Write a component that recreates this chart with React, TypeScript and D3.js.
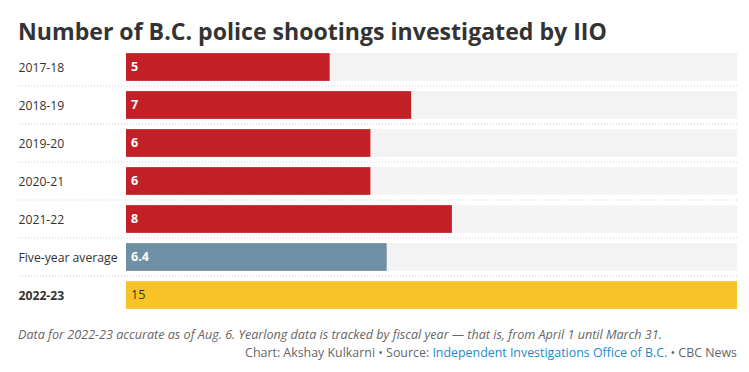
import * as d3 from "d3";
import React from "react";

const categories = ["2017-18", "2018-19", "2019-20", "2020-21", "2021-22", "Five-year average", "2022-23"];
const values = [5, 7, 6, 6, 8, 6.4, 15];
const valueLabels = ["5", "7", "6", "6", "8", "6.4", "15"];
const barKinds = ["year", "year", "year", "year", "year", "average", "current"];

const colors: Record<string, string> = {
  year: "#c22026",
  average: "#6f8fa4",
  current: "#f8c327",
};

const width = 749;
const height = 372;
const font = "'Open Sans', sans-serif";

export default function App() {
  const x = d3.scaleLinear().domain([0, 15]).range([126, 737]);
  const y = d3
    .scaleBand()
    .domain(categories)
    .range([48, 314])
    .paddingInner(0.27)
    .paddingOuter(0.135);
  const bw = y.bandwidth();
  const step = y.step();

  return (
    <svg
      width={width}
      height={height}
      style={{ position: "absolute", left: 0, top: 0, fontFamily: font }}
    >
      <text x={18} y={40} fontSize={23.1} fontWeight={700} fill="#333">
        Number of B.C. police shootings investigated by IIO
      </text>
      {categories.map((c, i) => {
        const yy = y(c)!;
        const kind = barKinds[i];
        return (
          <g key={c}>
            <rect x={x(0)} y={yy} width={x(15) - x(0)} height={bw} fill="#f3f3f3" />
            <rect x={x(0)} y={yy} width={x(values[i]) - x(0)} height={bw} fill={colors[kind]} />
            <text
              x={18.5}
              y={yy + bw / 2 + 1}
              dy="0.35em"
              fontSize={12.2}
              fontWeight={kind === "current" ? 700 : 400}
              fill="#333"
            >
              {c}
            </text>
            <text
              x={x(0) + 5}
              y={yy + bw / 2}
              dy="0.35em"
              fontSize={12.5}
              fontWeight={kind === "current" ? 400 : 700}
              fill={kind === "current" ? "#333" : "#fff"}
            >
              {valueLabels[i]}
            </text>
            {i < categories.length - 1 && (
              <line
                x1={19}
                x2={737}
                y1={yy + bw + (step - bw) / 2}
                y2={yy + bw + (step - bw) / 2}
                stroke="#cfcfcf"
                strokeWidth={1}
                strokeDasharray="1,2"
              />
            )}
          </g>
        );
      })}
      <text x={18} y={339} fontSize={12.6} fontStyle="italic" fill="#666">
        Data for 2022-23 accurate as of Aug. 6. Yearlong data is tracked by fiscal year — that is, from April 1 until March 31.
      </text>
      <text x={737} y={357} fontSize={12.4} fill="#666" textAnchor="end">
        Chart: Akshay Kulkarni • Source: <tspan fill="#1a8ad0">Independent Investigations Office of B.C.</tspan> • CBC News
      </text>
    </svg>
  );
}
